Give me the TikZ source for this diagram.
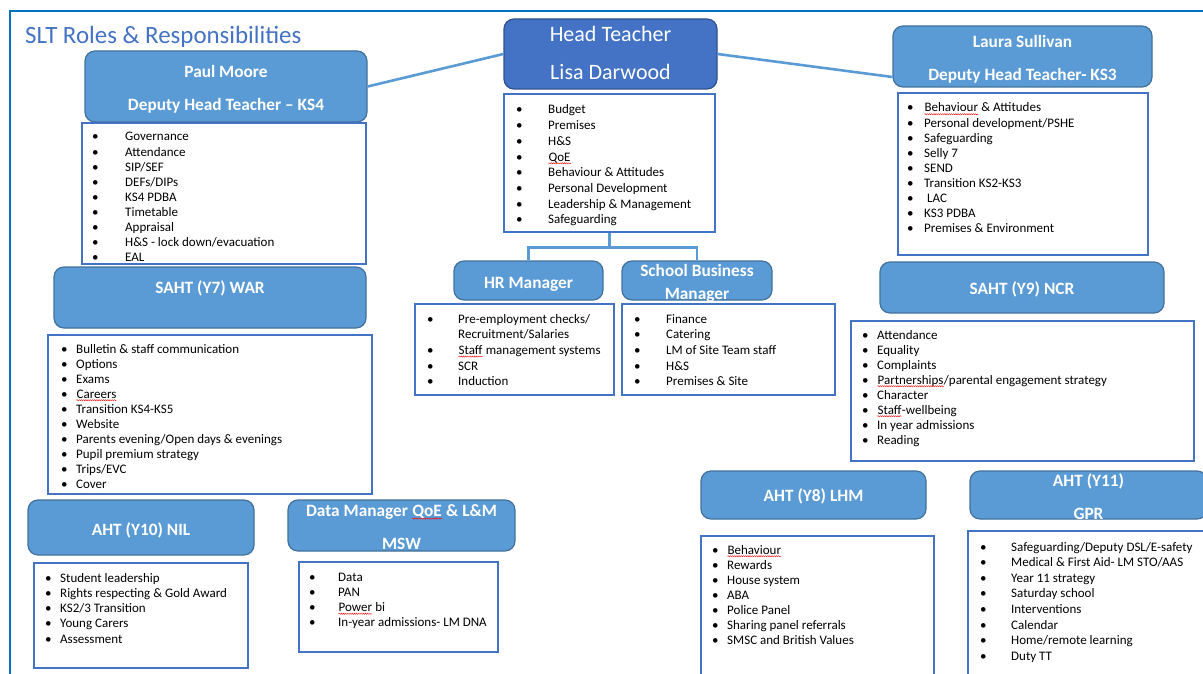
\documentclass[tikz,border=0pt]{standalone}
\usepackage{fontspec}
\setmainfont{Carlito}
\usetikzlibrary{decorations.pathmorphing}
\definecolor{hdr}{HTML}{5B9BD5}
\definecolor{hdrline}{HTML}{41719C}
\definecolor{headf}{HTML}{4472C4}
\definecolor{headline}{HTML}{2F528F}
\definecolor{lstline}{HTML}{4472C4}
\definecolor{framec}{HTML}{0070C0}
\definecolor{ttl}{HTML}{4472C4}
\tikzset{
  hbox/.style={draw=hdrline, fill=hdr, line width=1.2pt, rounded corners=10pt},
  htbox/.style={draw=headline, fill=headf, line width=1.2pt, rounded corners=10pt},
  lbox/.style={draw=lstline, line width=1.5pt, fill=white},
  htext/.style={text=white, font=\fontsize{17.3}{20}\selectfont\bfseries, anchor=mid, inner sep=0pt, yshift=-3pt},
  httext/.style={text=white, font=\fontsize{22}{26}\selectfont, anchor=mid, inner sep=0pt, yshift=-3.5pt},
  litem/.style={font=\fontsize{13}{15}\selectfont, anchor=base west, inner sep=0pt, text=black, yshift=-2pt},
  bul/.style={font=\fontsize{13}{15}\selectfont, anchor=base west, inner sep=0pt, text=black, yshift=-2pt},
  conn/.style={draw=hdr, line width=2.6pt},
  framel/.style={draw=framec, line width=2.4pt},
}
\newcommand\rbox[6]{\node[#2, inner sep=0pt, minimum width={(#5-#3)*1pt}, minimum height={(#6-#4)*1pt}] (#1) at ({(#3+#5)/2},{(#4+#6)/2}) {};}
\newcommand\blist[6]{\foreach \itm [count=\k] in {#6}{%
  \node[bul] (#1-b\k) at (#2,{#4+(\k-1)*#5}) {•};
  \node[litem] (#1-\k) at (#3,{#4+(\k-1)*#5}) {\itm};}}
\newcommand\sq[1]{\tikz[baseline=(sqw.base)]{\node[inner sep=0pt] (sqw) {#1};
  \draw[red, line width=0.4pt, decorate, decoration={snake, amplitude=0.6pt, segment length=2.2pt}] ([yshift=-2.2pt]sqw.base west) -- ([yshift=-2.2pt]sqw.base east);}}
\begin{document}
\begin{tikzpicture}[x=1pt,y=-1pt]
\useasboundingbox (0,0) rectangle (1203,674);
\fill[white] (0,0) rectangle (1203,674);
% frame
\coordinate (fa) at (10,680);
\coordinate (fb) at (10,11);
\coordinate (fc) at (1210,11);
\draw[framel] (fa) -- (fb) -- (fc);
% title
\node[anchor=base west, text=ttl, font=\fontsize{24.9}{28}\selectfont, inner sep=0pt] (title) at (25,44) {SLT Roles \& Responsibilities};
% header boxes
\rbox{ht}{htbox}{504}{19}{717}{89}
\rbox{pm}{hbox}{85}{51}{367}{122}
\rbox{ls}{hbox}{893}{26}{1152}{87}
\rbox{y7}{hbox}{54}{267}{366}{328}
\rbox{hr}{hbox}{454}{261}{603}{300}
\rbox{sbm}{hbox}{622}{261}{772}{300}
\rbox{y9}{hbox}{880}{262}{1164}{313}
\rbox{y10}{hbox}{28}{500}{254}{555}
\rbox{dm}{hbox}{288}{500}{515}{551}
\rbox{y8}{hbox}{701}{471}{926}{519}
\rbox{y11}{hbox}{970}{471}{1207}{519}
% list boxes
\rbox{hl}{lbox}{504}{94}{715}{232}
\rbox{pl}{lbox}{82}{123}{366}{264}
\rbox{ll}{lbox}{898}{93}{1148}{255}
\rbox{y7l}{lbox}{48}{335}{372}{494}
\rbox{hrl}{lbox}{415}{304}{614}{395}
\rbox{sbml}{lbox}{622}{304}{835}{395}
\rbox{y9l}{lbox}{851}{321}{1194}{461}
\rbox{y10l}{lbox}{34}{563}{248}{668}
\rbox{dl}{lbox}{299}{562}{498}{652}
\rbox{y8l}{lbox}{701}{536}{934}{682}
\rbox{y11l}{lbox}{968}{531}{1212}{682}
% connectors
\draw[conn] (pm.east) -- (ht.west);
\draw[conn] (ht.east) -- ([yshift=-20.5pt]ls.west);
\draw[conn] (hl.south) -- ++(0,14.5) coordinate (jn);
\draw[conn] (hr.north) |- (jn) -| (sbm.north);
% header texts
\node[httext] (ht1) at (610.5,36) {Head Teacher};
\node[httext] (ht2) at (610.5,74) {Lisa Darwood};
\node[htext] (pm1) at (226,72) {Paul Moore};
\node[htext] (pm2) at (226,105) {Deputy Head Teacher – KS4};
\node[htext] (ls1) at (1022.5,42) {Laura Sullivan};
\node[htext] (ls2) at (1022.5,75) {Deputy Head Teacher- KS3};
\node[htext] (y7t) at (210,288) {SAHT (Y7) WAR};
\node[htext] (hrt) at (528.5,283) {HR Manager};
\node[htext] (sbm1) at (697,271) {School Business};
\node[htext] (sbm2) at (697,294) {Manager};
\node[htext] (y9t) at (1022,289) {SAHT (Y9) NCR};
\node[htext] (y10t) at (141,530) {AHT (Y10) NIL};
\node[htext] (dm1) at (401.5,511) {Data Manager \sq{QoE} \& L\&M};
\node[htext] (dm2) at (401.5,544) {MSW};
\node[htext] (y8t) at (813.5,496) {AHT (Y8) LHM};
\node[htext] (y11a) at (1088.5,481) {AHT (Y11)};
\node[htext] (y11b) at (1088.5,514) {GPR};
% lists
\blist{hli}{516}{548}{112}{15.7}{Budget, Premises, H\&S, \sq{QoE}, Behaviour \& Attitudes, Personal Development, Leadership \& Management, Safeguarding}
\blist{pli}{92}{125}{139}{15.1}{Governance, Attendance, SIP/SEF, DEFs/DIPs, KS4 PDBA, Timetable, Appraisal, H\&S - lock down/evacuation, EAL}
\blist{lli}{907}{924}{110}{15.1}{\sq{Behaviour} \& Attitudes, Personal development/PSHE, Safeguarding, Selly 7, SEND, Transition KS2-KS3, \ LAC, KS3 PDBA, Premises \& Environment}
\blist{y7i}{61}{76}{351}{15.0}{Bulletin \& staff communication, Options, Exams, \sq{Careers}, Transition KS4-KS5, Website, Parents evening/Open days \& evenings, Pupil premium strategy, Trips/EVC, Cover}
\blist{hra}{427}{458}{321}{15.7}{Pre-employment checks/}
\node[litem] (hrx) at (458,336.7) {Recruitment/Salaries};
\blist{hrb}{427}{458}{352.4}{15.7}{\sq{Staff} management systems, SCR, Induction}
\blist{sbi}{634}{666}{321}{15.7}{Finance, Catering, LM of Site Team staff, H\&S, Premises \& Site}
\blist{y9i}{862}{877}{337}{15.0}{Attendance, Equality, Complaints, \sq{Partnerships}/parental engagement strategy, Character, \sq{Staff}-wellbeing, In year admissions, Reading}
\blist{y10i}{45}{60}{580}{15.25}{Student leadership, Rights respecting \& Gold Award, KS2/3 Transition, Young Carers, Assessment}
\blist{dli}{309}{338}{579}{15.3}{Data, PAN, \sq{Power} bi, In-year admissions- LM DNA}
\blist{y8i}{712}{727}{552}{15.0}{\sq{Behaviour}, Rewards, House system, ABA, Police Panel, Sharing panel referrals, SMSC and British Values}
\blist{y11i}{980}{1011}{549}{15.6}{Safeguarding/Deputy DSL/E-safety, Medical \& First Aid- LM STO/AAS, Year 11 strategy, Saturday school, Interventions, Calendar, Home/remote learning, Duty TT}
\end{tikzpicture}
\end{document}
